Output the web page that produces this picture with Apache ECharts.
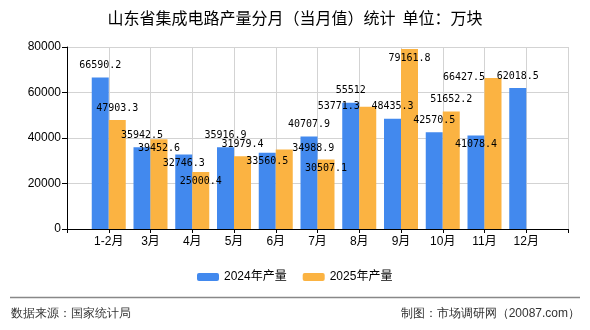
<!DOCTYPE html>
<html>
<head>
<meta charset="utf-8">
<script src="https://cdn.jsdelivr.net/npm/echarts@6/dist/echarts.min.js"></script>
<style>
  html, body { margin: 0; padding: 0; background: #fff; }
  #main { width: 590px; height: 330px; }
</style>
</head>
<body>
<div id="main"></div>
<script>
// 月份
const months = ['1-2月', '3月', '4月', '5月', '6月', '7月', '8月', '9月', '10月', '11月', '12月'];
// 2024年产量（万块）
const y2024 = [66590.2, 35942.5, 32746.3, 35916.9, 33560.5, 40707.9, 55512, 48435.3, 42570.5, 41078.4, 62018.5];
// 2025年产量（万块）
const y2025 = [47903.3, 39452.6, 25000.4, 31979.4, 34988.9, 30507.1, 53771.3, 79161.8, 51652.2, 66427.5];
const yTicks = [0, 20000, 40000, 60000, 80000];

// label placement used by the original chart: t = above, i = just under top, l/r = beside bar
const pos2024 = ['t', 't', 'i', 't', 'i', 't', 't', 't', 't', 'i', 't'];
const pos2025 = ['t', 'i', 'i', 't', 'r', 'i', 'l', 'i', 't', 'l'];
const offsets = { t: [0, 0], i: [0, 21], r: [29, 11.5], l: [-29, 11.5] };

const cjk = 'Liberation Sans, "Noto Sans CJK SC", sans-serif';

// empty slot before and after so the bar groups sit on the ticks
const cats = [''].concat(months, ['']);
function build(vals, pos) {
  const out = [null];
  for (let i = 0; i < months.length; i++) {
    if (i < vals.length) {
      out.push({ value: vals[i], label: { offset: offsets[pos[i]] } });
    } else {
      out.push(null);
    }
  }
  out.push(null);
  return out;
}

const chart = echarts.init(document.getElementById('main'));
const option = {
  animation: false,
  title: {
    text: '山东省集成电路产量分月（当月值）统计  单位：万块',
    left: 'center',
    top: 5,
    textStyle: { fontSize: 16, fontWeight: 'normal', color: '#000', fontFamily: '"Noto Sans CJK SC", sans-serif' }
  },
  legend: {
    left: 192,
    top: 266,
    itemWidth: 22,
    itemHeight: 8,
    itemGap: 16,
    textStyle: { fontSize: 12, color: '#000', fontFamily: cjk },
    data: ['2024年产量', '2025年产量']
  },
  grid: { left: 67, right: 22, top: 47, bottom: 101, containLabel: false },
  xAxis: {
    type: 'category',
    boundaryGap: false,
    data: cats,
    axisLine: { lineStyle: { color: '#000', width: 1 } },
    axisTick: { show: true, length: 4, interval: 0, lineStyle: { color: '#000' } },
    axisLabel: { interval: 0, margin: 7, fontSize: 12, color: '#000', fontFamily: cjk },
    splitLine: { show: true, interval: 0, lineStyle: { color: '#d3d3d3' } }
  },
  yAxis: {
    type: 'value',
    min: yTicks[0],
    max: yTicks[yTicks.length - 1],
    interval: 20000,
    axisLine: { show: true, lineStyle: { color: '#000', width: 1 } },
    axisTick: { show: true, length: 5, lineStyle: { color: '#000' } },
    axisLabel: {
      margin: 6, fontSize: 12, color: '#000', fontFamily: cjk,
      formatter: function (v) { return String(v); }
    },
    splitLine: { show: true, lineStyle: { color: '#d3d3d3' } }
  },
  series: [
    {
      name: '2024年产量',
      type: 'bar',
      barWidth: 17,
      barGap: '0%',
      itemStyle: { color: '#4289ee' },
      label: {
        show: true, position: 'top', distance: 7,
        fontSize: 10, color: '#000', fontFamily: '"DejaVu Sans Mono", monospace'
      },
      data: build(y2024, pos2024)
    },
    {
      name: '2025年产量',
      type: 'bar',
      barWidth: 17,
      barGap: '0%',
      itemStyle: { color: '#fbb342' },
      label: {
        show: true, position: 'top', distance: 7,
        fontSize: 10, color: '#000', fontFamily: '"DejaVu Sans Mono", monospace'
      },
      data: build(y2025, pos2025)
    }
  ],
  graphic: [
    {
      type: 'line',
      shape: { x1: 10, y1: 297.5, x2: 580, y2: 297.5 },
      style: { stroke: '#888', lineWidth: 1.5 }
    },
    {
      type: 'text',
      left: 11,
      top: 308,
      style: { text: '数据来源：国家统计局', fontSize: 12, fill: '#333', font: '12px "Noto Sans CJK SC", sans-serif' }
    },
    {
      type: 'text',
      right: 10,
      top: 308,
      style: { text: '制图：市场调研网（20087.com）', fontSize: 12, fill: '#333', font: '12px "Noto Sans CJK SC", sans-serif' }
    }
  ]
};
chart.setOption(option);
</script>
</body>
</html>
